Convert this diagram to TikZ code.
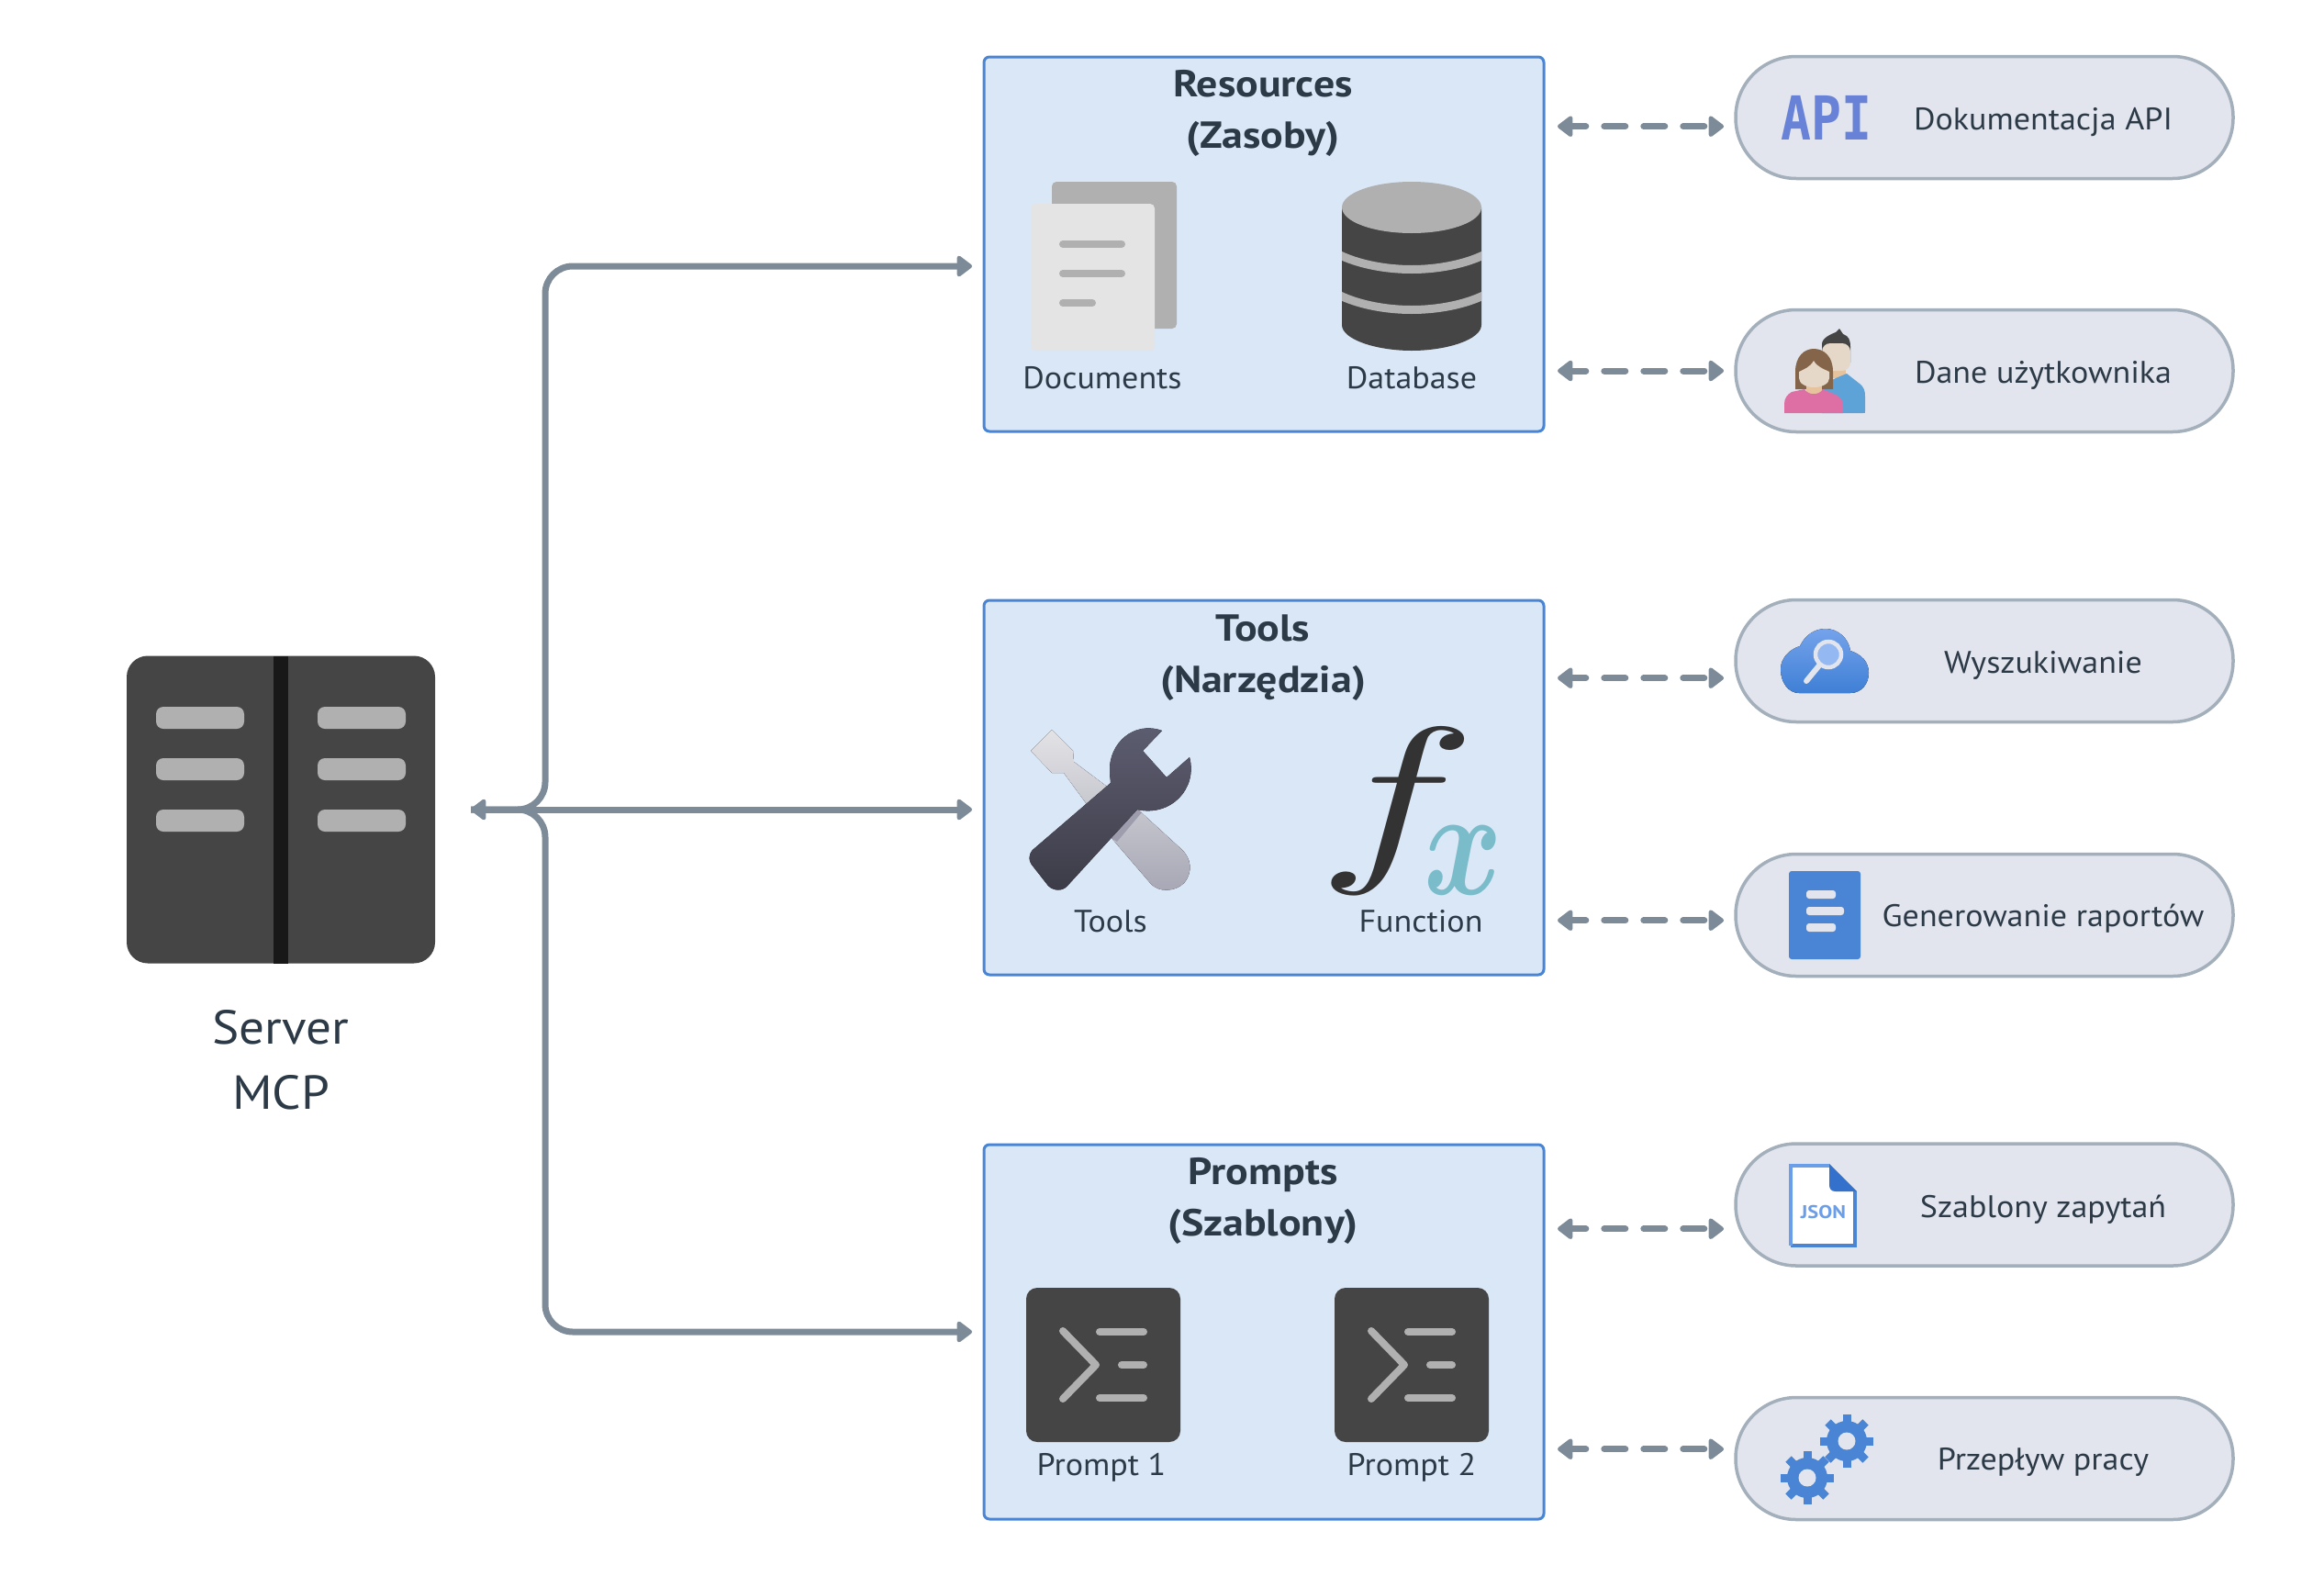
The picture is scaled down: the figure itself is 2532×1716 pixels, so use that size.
\documentclass[tikz,border=0pt]{standalone}
\usepackage{fontspec}
\setmainfont{PT Sans}[FakeStretch=1.06,BoldFeatures={FakeStretch=1.12}]
\newfontfamily\apifont{DejaVu Sans Mono}
\usetikzlibrary{arrows.meta,calc}

\definecolor{inktext}{HTML}{2C3A47}
\definecolor{cardline}{HTML}{4A84D4}
\definecolor{cardfill}{HTML}{DAE7F6}
\definecolor{pillline}{HTML}{A3AFBA}
\definecolor{pillfill}{HTML}{E2E5ED}
\definecolor{linkgrey}{HTML}{7D8B99}
\definecolor{darkicon}{HTML}{454545}
\definecolor{midicon}{HTML}{B0B0B0}
\definecolor{paleicon}{HTML}{E4E4E4}
\definecolor{skin}{HTML}{E5D8C8}
\definecolor{neck}{HTML}{E6C29D}
\definecolor{rackbar}{HTML}{181818}
\definecolor{wrenchtop}{HTML}{5E5E72}
\definecolor{wrenchend}{HTML}{3C3C48}
\definecolor{drivertop}{HTML}{E3E3E6}
\definecolor{driverend}{HTML}{A7A7B5}
\definecolor{drivershade}{HTML}{9D9DAD}
\definecolor{fxteal}{HTML}{7ABCC9}
\definecolor{fxdark}{HTML}{333333}
\definecolor{apiblue}{HTML}{6882D8}
\definecolor{shirtblue}{HTML}{5EA3D8}
\definecolor{shirtpink}{HTML}{DD6FA5}
\definecolor{hairbrown}{HTML}{85654A}
\definecolor{cloudtop}{HTML}{74A3EA}
\definecolor{cloudend}{HTML}{3F7FD6}
\definecolor{lensblue}{HTML}{94B8F2}
\definecolor{jsonlight}{HTML}{6B9EE8}
\definecolor{jsonfold}{HTML}{3371CC}

\tikzset{
  card/.style={draw=cardline,fill=cardfill,line width=3pt,rounded corners=6pt,
    minimum width=610pt,minimum height=408pt,inner sep=0pt,outer sep=0pt},
  pill/.style={draw=pillline,fill=pillfill,line width=3.5pt,rounded corners=66pt,
    minimum width=542pt,minimum height=133pt,inner sep=0pt,outer sep=0pt},
  cardtitle/.style={text=inktext,align=center,anchor=base,
    font=\fontsize{41}{56}\selectfont\bfseries},
  iconlabel/.style={text=inktext,anchor=base,inner sep=0pt,font=\fontsize{34}{40}\selectfont},
  pilllabel/.style={iconlabel},
  link/.style={draw=linkgrey,line width=7pt,>={Triangle[length=18pt,width=26pt,round]}},
  dashlink/.style={link,line cap=round,dash pattern=on 23pt off 20pt,dash phase=7.5pt},
  promptbox/.style={fill=darkicon,rounded corners=12pt,minimum width=168pt,minimum height=168pt,
    inner sep=0pt,outer sep=0pt},
  bar/.style={draw=midicon,line width=8pt,line cap=round},
  pics/promptglyph/.style={code={
    \draw[bar,line join=round] (-44,-37) -- (-8,0) -- (-44,37);
    \draw[bar] (-4,-36) -- (44,-36);
    \draw[bar] (20,0) -- (44,0);
    \draw[bar] (-4,36) -- (44,36);
  }},
  pics/gearicon/.style={code={
    \foreach \ang in {0,45,...,315}
      \draw[cardline,line width=9pt] (\ang:15pt) -- (\ang:29pt);
    \fill[cardline] (0,0) circle (22pt);
    \fill[pillfill] (0,0) circle (9.5pt);
  }}
}

\begin{document}
\begin{tikzpicture}[x=1pt,y=-1pt]
    \useasboundingbox (0,0) rectangle (2532,1716);

    \node[fill=darkicon,rounded corners=23pt,minimum width=336pt,minimum height=335pt,
      inner sep=0pt,outer sep=0pt] (srv) at (306,882) {};
    \fill[rackbar] (298,714.5) rectangle (314,1049.5);
    \foreach \xa in {170,346}
      \foreach \ya in {770,826,882}
        \fill[midicon,rounded corners=8pt] (\xa,\ya) rectangle ++(96,24);
    \node[text=inktext,align=center,anchor=base,inner sep=0pt,
      font=\fontsize{52}{71}\selectfont] (srvtext) at (306,1208) {Server\\MCP};

    \node[card] (res) at (1377,266) {};
    \node[card] (tls) at (1377,858) {};
    \node[card] (prm) at (1377,1451) {};
    \node[cardtitle] (restitle) at (1376,161) {Resources\\(Zasoby)};
    \node[cardtitle] (tlstitle) at (1376,754) {Tools\\(Narzędzia)};
    \node[cardtitle] (prmtitle) at (1376,1346) {Prompts\\(Szablony)};

    \node[pill] (api) at (2162,128) {};
    \node[pill] (usr) at (2162,404) {};
    \node[pill] (sch) at (2162,720) {};
    \node[pill] (rep) at (2162,997) {};
    \node[pill] (tpl) at (2162,1312.5) {};
    \node[pill] (flw) at (2162,1589) {};

    \coordinate (hub) at (594,882);
    \draw[link,<->,shorten <=39pt,shorten >=13pt] (srv.east) -- (tls.west |- srv.east);
    \draw[link,->,rounded corners=30pt,shorten <=39pt,shorten >=13pt] (srv.east) -- (hub) |- ([yshift=-24pt]res.west);
    \draw[link,->,rounded corners=30pt,shorten <=39pt,shorten >=13pt] (srv.east) -- (hub) |- (prm.west);

    \foreach \cardname/\pillname/\ya in {res/api/137.7,res/usr/404,tls/sch/738.7,tls/rep/1002.7,prm/tpl/1338.7,prm/flw/1578.7}
      \draw[dashlink,<->,shorten <=15pt,shorten >=13pt] (\cardname.east |- 0,\ya) -- (\pillname.west |- 0,\ya);

    \foreach \xa/\txt in {1201/Documents,1538/Database}
      \node[iconlabel] (lab\txt) at (\xa,423) {\txt};
    \node[iconlabel] (labtools) at (1210,1015) {Tools};
    \node[iconlabel] (labfunc) at (1548,1015) {Function};
    \node[iconlabel] (labprm1) at (1200,1607) {Prompt 1};
    \node[iconlabel] (labprm2) at (1538,1607) {Prompt 2};

    \node[pilllabel] (txtapi) at (2226,141) {Dokumentacja API};
    \node[pilllabel] (txtusr) at (2226,417.5) {Dane użytkownika};
    \node[pilllabel] (txtsch) at (2226,733.5) {Wyszukiwanie};
    \node[pilllabel] (txtrep) at (2226,1009) {Generowanie raportów};
    \node[pilllabel] (txttpl) at (2226,1326) {Szablony zapytań};
    \node[pilllabel] (txtflw) at (2226,1601.5) {Przepływ pracy};

    \fill[midicon,rounded corners=5pt] (1146,198) rectangle (1282,358);
    \fill[paleicon,rounded corners=5pt] (1123,222) rectangle (1258,382);
    \foreach \ya/\xb in {266/1222,298/1222,330/1190}
      \draw[bar] (1158,\ya) -- (\xb,\ya);

    \fill[darkicon] (1462,226) -- (1462,354) .. controls (1462,370) and (1500,382) .. (1538,382)
      .. controls (1576,382) and (1614,370) .. (1614,354) -- (1614,226) -- cycle;
    \fill[midicon] (1538,226) ellipse (76pt and 28pt);
    \begin{scope}
      \clip (1462,250) rectangle (1614,350);
      \foreach \ya in {0,44}
        \draw[midicon,line width=9pt] (1458,{277+\ya}) .. controls (1480,{288+\ya}) and (1510,{293.5+\ya})
          .. (1538,{293.5+\ya}) .. controls (1566,{293.5+\ya}) and (1596,{288+\ya}) .. (1618,{277+\ya});
    \end{scope}

    \fill[top color=drivertop,bottom color=driverend] (1146,795) -- (1123,818) -- (1146,842) -- (1159,842)
      -- (1211,913) -- (1254,963) .. controls (1262,972) and (1280,972) .. (1290,962)
      .. controls (1300,950) and (1298,935) .. (1287,925) -- (1241,883) -- (1170,830) -- (1169,818) -- cycle;
    \fill[drivershade] (1239,882) -- (1244,885) -- (1217,917) -- (1211,913) -- cycle;
    \fill[top color=wrenchtop,bottom color=wrenchend] (1266,796) .. controls (1235,785) and (1208,810) .. (1209,840)
      .. controls (1209,845) and (1210,850) .. (1210,853) -- (1125,926) .. controls (1120,932) and (1121,938) .. (1124,942)
      -- (1142,965) .. controls (1148,971) and (1158,971) .. (1163,965) -- (1239,882)
      .. controls (1275,890) and (1305,860) .. (1296,825) -- (1271,847) -- (1245,818) -- cycle;

    \node[text=fxdark,anchor=base,inner sep=0pt] (fxf) at (1522,934) {\scalebox{29}[20.3]{$f$}};
    \node[text=fxteal,anchor=base,inner sep=0pt] (fxx) at (1594,974) {\scalebox{13}[16.7]{\boldmath$x$}};

    \foreach \xa/\nm in {1202/one,1538/two} {
      \node[promptbox] (box\nm) at (\xa,1487) {};
      \pic at (box\nm) {promptglyph};
    }

    \node[text=apiblue,anchor=base,inner sep=0pt] (apiicon) at (1989.5,152)
      {\scalebox{.83}[1]{\fontsize{66}{66}\selectfont\apifont\bfseries API}};

    \fill[darkicon] (1985,395) -- (1985,375) .. controls (1985,368) and (1995,364) .. (2000,362) -- (2004,358)
      -- (2008,364) .. controls (2014,366) and (2016,370) .. (2016,378) -- (2016,395) -- cycle;
    \fill[neck] (1995,395) rectangle (2011,412);
    \fill[skin,rounded corners=9pt] (1985,374) rectangle (2016,404);
    \fill[shirtblue] (1985,420) -- (2000,412) -- (2012,407) -- (2026,418) .. controls (2031,422) and (2032,426) .. (2032,432)
      -- (2032,448) .. controls (2032,450) .. (2030,450) -- (1985,450) -- cycle;
    \fill[hairbrown] (1956,424) -- (1956,405) .. controls (1956,388) and (1966,380) .. (1976,380)
      .. controls (1987,380) and (1997,388) .. (1997,405) -- (1997,424) -- cycle;
    \fill[neck] (1968,416) rectangle (1985,432);
    \fill[skin] (1960,405) .. controls (1966,402) and (1972,400) .. (1976,393) .. controls (1980,400) and (1987,402) .. (1993,405)
      -- (1993,412) .. controls (1993,418) and (1985,422) .. (1976,422) .. controls (1968,422) and (1960,418) .. (1960,412) -- cycle;
    \fill[shirtpink] (1944,450) -- (1944,440) .. controls (1944,434) and (1947,430) .. (1952,427) -- (1966,424)
      .. controls (1970,431) and (1982,431) .. (1986,424) -- (2000,430) .. controls (2005,433) and (2008,436) .. (2008,442) -- (2008,450) -- cycle;

    \fill[top color=cloudtop,bottom color=cloudend] (1960,755) .. controls (1948,755) and (1940,743) .. (1940,729)
      .. controls (1940,717) and (1950,707) .. (1961,704) .. controls (1966,693) and (1976,685) .. (1989,685)
      .. controls (2002,685) and (2014,695) .. (2016,709) .. controls (2028,713) and (2036,721) .. (2036,733)
      .. controls (2036,745) and (2028,755) .. (2016,755) -- cycle;
    \draw[pillfill,line width=6pt,line cap=round] (1968,742) -- (1982,725);
    \draw[pillfill,fill=lensblue,line width=4.5pt] (1992,713) circle (14pt);

    \fill[cardline,rounded corners=3pt] (1949,949) rectangle (2027,1045);
    \foreach \ya/\xb in {970/2000,988/2009,1006/2000}
      \fill[pillfill,rounded corners=3pt] (1968,\ya) rectangle (\xb,\ya+9);

    \fill[white] (1951,1270) -- (1993,1270) -- (2021,1298) -- (2021,1357) -- (1951,1357) -- cycle;
    \draw[cardline,line width=4pt] (2021,1298) -- (2021,1357) -- (1951,1357);
    \draw[jsonlight,line width=4pt] (1951,1357) -- (1951,1270) -- (1993,1270);
    \fill[jsonfold] (1993,1268) -- (2023,1298) -- (2000,1298) .. controls (1995,1298) and (1993,1295) .. (1993,1291) -- cycle;
    \node[text=jsonlight,anchor=base,inner sep=0pt] (jsontext) at (1986.5,1327)
      {\fontsize{20}{20}\selectfont\bfseries JSON};

    \pic at (2012,1570) {gearicon};
    \pic at (1969,1610) {gearicon};
\end{tikzpicture}
\end{document}
